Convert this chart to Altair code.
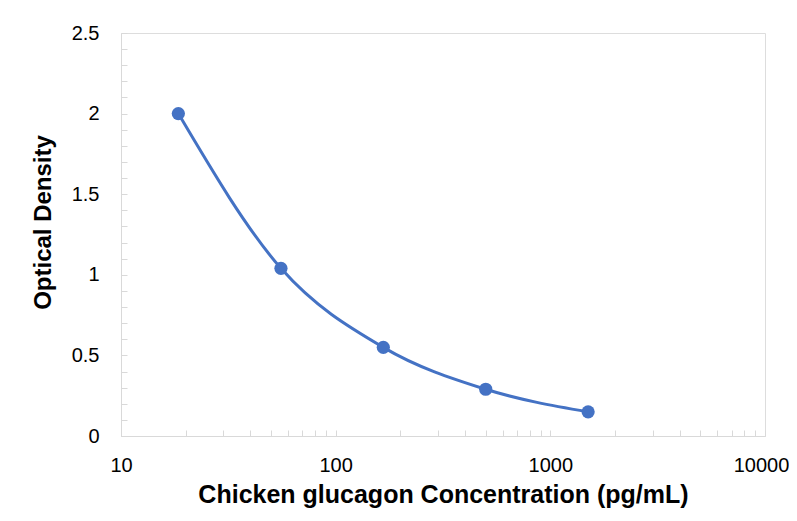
import altair as alt
import pandas as pd

concentration = [18.5, 55.6, 166.7, 500, 1500]
optical_density = [2.0, 1.04, 0.55, 0.29, 0.15]

x_ticks = [m * 10 ** e for e in range(1, 4) for m in range(1, 10)] + [10000]
y_ticks = [round(i * 0.1, 1) for i in range(26)]

df = pd.DataFrame({"conc": concentration, "od": optical_density})

FONT = "Liberation Sans"
BLUE = "#4472C4"
GRAY = "#D9D9D9"

x_enc = alt.X(
    "conc:Q",
    scale=alt.Scale(type="log", domain=[10, 10000], nice=False),
    axis=alt.Axis(
        title="Chicken glucagon Concentration (pg/mL)",
        values=x_ticks,
        format="d",
        labelExpr="indexof(['10','100','1000','10000'], datum.label) >= 0 ? datum.label : ''",
        grid=False,
        domainColor=GRAY,
        tickColor=GRAY,
        tickSize={"expr": "-6"},
        labelPadding=25,
        labelOffset={"condition": {"test": "datum.value >= 10000", "value": -4}, "value": 0},
        labelFont=FONT,
        labelFontSize=20,
        labelColor="#000000",
        labelFlush=False,
        labelOverlap=False,
        titleFont=FONT,
        titleFontSize=25,
        titleFontWeight="bold",
        titleColor="#000000",
        titlePadding=7,
    ),
)
y_enc = alt.Y(
    "od:Q",
    scale=alt.Scale(domain=[0, 2.5], nice=False),
    axis=alt.Axis(
        title="Optical Density",
        values=y_ticks,
        format=".1~f",
        labelExpr="abs(datum.value*2 - round(datum.value*2)) < 0.000001 ? format(datum.value, '.1~f') : ''",
        grid=False,
        domainColor=GRAY,
        tickColor=GRAY,
        tickSize={"expr": "-6"},
        labelPadding=28,
        labelFont=FONT,
        labelFontSize=20,
        labelColor="#000000",
        labelOverlap=False,
        labelFlush=False,
        titleFont=FONT,
        titleFontSize=24,
        titleFontWeight="bold",
        titleColor="#000000",
        titlePadding=16,
        titleY=189,
    ),
)

base = alt.Chart(df).encode(x=x_enc, y=y_enc)
line = base.mark_line(interpolate="monotone", color=BLUE, strokeWidth=3)
pts = base.mark_circle(color=BLUE, size=175, opacity=1)

chart = (
    alt.layer(line, pts)
    .properties(
        width=644,
        height=403,
        autosize=alt.AutoSizeParams(type="none"),
        padding={"left": 113, "top": 25, "right": 24, "bottom": 77},
    )
    .configure_view(stroke=None)
    .configure(background="white")
)

chart.save("out.html", embed_options={"renderer": "svg", "actions": False})
